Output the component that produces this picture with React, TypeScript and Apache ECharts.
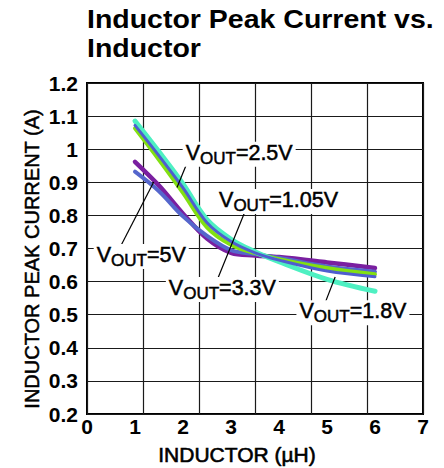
import React, { useEffect, useRef } from "react";
import * as echarts from "echarts";

// Inductance values (µH) where the curves were read
const inductance = [1, 1.5, 2, 2.5, 3, 3.5, 4, 5, 6];
// Peak current (A) per output voltage
const vout1p8 = [1.085, 0.992, 0.895, 0.787, 0.728, 0.69, 0.66, 0.607, 0.571];
const vout2p5 = [1.072, 0.98, 0.883, 0.778, 0.721, 0.687, 0.665, 0.632, 0.615];
const vout1p05 = [1.063, 0.968, 0.868, 0.764, 0.711, 0.686, 0.668, 0.641, 0.622];
const vout3p3 = [0.962, 0.89, 0.805, 0.73, 0.687, 0.679, 0.674, 0.658, 0.641];
const vout5 = [0.932, 0.873, 0.797, 0.738, 0.695, 0.683, 0.672, 0.646, 0.63];

const xTicks = [0, 1, 2, 3, 4, 5, 6, 7];
const yTicks = [0.2, 0.3, 0.4, 0.5, 0.6, 0.7, 0.8, 0.9, 1.0, 1.1, 1.2];

// annotations: label text suffix, label centre, pointer start, pointer end (data units)
const labelNames = ["2.5V", "1.05V", "5V", "3.3V", "1.8V"];
const labelCentres = [[3.17, 0.985], [3.99, 0.842], [1.13, 0.676], [2.82, 0.576], [5.54, 0.506]];
const pointerFrom = [[2.15, 0.982], null, [0.695, 0.705], [2.71, 0.604], [4.9, 0.513]];
const pointerTo = [[1.875, 0.884], null, [1.39, 0.901], [3.3, 0.815], [5.17, 0.614]];

const FONT = "'Liberation Sans', Arial, Helvetica, sans-serif";

const seriesDefs = [
  { name: "VOUT=3.3V", data: vout3p3, color: "#7a1fa0", width: 4.5 },
  { name: "VOUT=5V", data: vout5, color: "#5566cc", width: 4 },
  { name: "VOUT=1.05V", data: vout1p05, color: "#82e012", width: 4 },
  { name: "VOUT=1.8V", data: vout1p8, color: "#4ef0c2", width: 5 },
  { name: "VOUT=2.5V", data: vout2p5, color: "#4f5dcf", width: 3 },
];

export default function App() {
  const ref = useRef<HTMLDivElement>(null);
  useEffect(() => {
    if (!ref.current) return;
    const chart = echarts.init(ref.current, null, { renderer: "svg" });
    const option: any = {
      animation: false,
      backgroundColor: "#fff",
      grid: {
        left: 87,
        right: 21,
        top: 83,
        bottom: 54,
        show: true,
        borderColor: "#000",
        borderWidth: 2,
        backgroundColor: "transparent",
      },
      xAxis: [
        {
          type: "value",
          min: xTicks[0],
          max: xTicks[xTicks.length - 1],
          interval: 1,
          axisLine: { show: false },
          axisTick: { show: false },
          splitLine: { show: false },
          axisLabel: {
            margin: 2,
            color: "#000",
            fontFamily: FONT,
            fontWeight: "bold",
            fontSize: 21,
            showMinLabel: true,
            showMaxLabel: true,
          },
        },
        {
          type: "value",
          position: "top",
          min: 0,
          max: 6,
          interval: 1,
          axisLine: { show: false },
          axisTick: { show: false },
          axisLabel: { show: false },
          splitLine: { show: true, lineStyle: { color: "#1a1a1a", width: 1.2 } },
        },
      ],
      yAxis: {
        type: "value",
        min: yTicks[0],
        max: yTicks[yTicks.length - 1],
        interval: 0.1,
        axisLine: { show: false },
        axisTick: { show: false },
        splitLine: { show: true, lineStyle: { color: "#1a1a1a", width: 1.2 } },
        axisLabel: {
          margin: 9,
          color: "#000",
          fontFamily: FONT,
          fontWeight: "bold",
          fontSize: 21,
          formatter: (v: number) => String(Math.round(v * 10) / 10),
        },
      },
      series: seriesDefs.map((s) => ({
        name: s.name,
        type: "line",
        xAxisIndex: 0,
        yAxisIndex: 0,
        smooth: 0.35,
        showSymbol: false,
        symbol: "none",
        data: inductance.map((x, i) => [x, s.data[i]]),
        lineStyle: { color: s.color, width: s.width, cap: "round" },
        itemStyle: { color: s.color },
        z: 3,
      })),
    };
    chart.setOption(option);

    const toPx = (p: number[]) => chart.convertToPixel({ xAxisIndex: 0, yAxisIndex: 0 }, p) as number[];
    const graphics: any[] = [];
    labelNames.forEach((name, i) => {
      const from = pointerFrom[i];
      const to = pointerTo[i];
      if (from && to) {
        const a = toPx(from);
        const b = toPx(to);
        graphics.push({
          type: "line",
          z: 10,
          shape: { x1: a[0], y1: a[1], x2: b[0], y2: b[1] },
          style: { stroke: "#000", lineWidth: 1.2 },
        });
      }
    });
    labelNames.forEach((name, i) => {
      const c = toPx(labelCentres[i]);
      graphics.push({
        type: "text",
        z: 11,
        x: c[0],
        y: c[1],
        style: {
          text: `{v|V}{s|OUT}{v|=${name}}`,
          align: "center",
          verticalAlign: "middle",
          backgroundColor: "#fff",
          padding: [0, 3, 0, 3],
          rich: {
            v: {
              fontSize: 21.5, lineHeight: 22, verticalAlign: "top", fontFamily: FONT,
              fill: "#000", stroke: "#000", lineWidth: 0.5,
            },
            s: {
              fontSize: 17, lineHeight: 25, verticalAlign: "bottom", fontFamily: FONT,
              fill: "#000", stroke: "#000", lineWidth: 0.5,
            },
          },
        },
      });
    });
    graphics.push({
      type: "text",
      x: 87,
      y: 5,
      scaleX: 1.14,
      style: {
        text: "Inductor Peak Current vs.\nInductor",
        font: `bold 25px ${FONT}`,
        lineHeight: 29,
        fill: "#000",
        align: "left",
        verticalAlign: "top",
      },
    });
    graphics.push({
      type: "text",
      x: 237,
      y: 454,
      style: {
        text: "INDUCTOR (µH)",
        font: `21px ${FONT}`,
        fill: "#000",
        stroke: "#000",
        lineWidth: 0.6,
        align: "center",
        verticalAlign: "middle",
      },
    });
    graphics.push({
      type: "text",
      x: 32,
      y: 259,
      rotation: Math.PI / 2,
      style: {
        text: "INDUCTOR PEAK CURRENT (A)",
        font: `20px ${FONT}`,
        fill: "#000",
        stroke: "#000",
        lineWidth: 0.5,
        align: "center",
        verticalAlign: "middle",
      },
    });
    chart.setOption({ graphic: graphics });

    return () => chart.dispose();
  }, []);
  return (
    <div
      ref={ref}
      style={{ position: "fixed", left: 0, top: 0, width: 444, height: 468 }}
    />
  );
}
